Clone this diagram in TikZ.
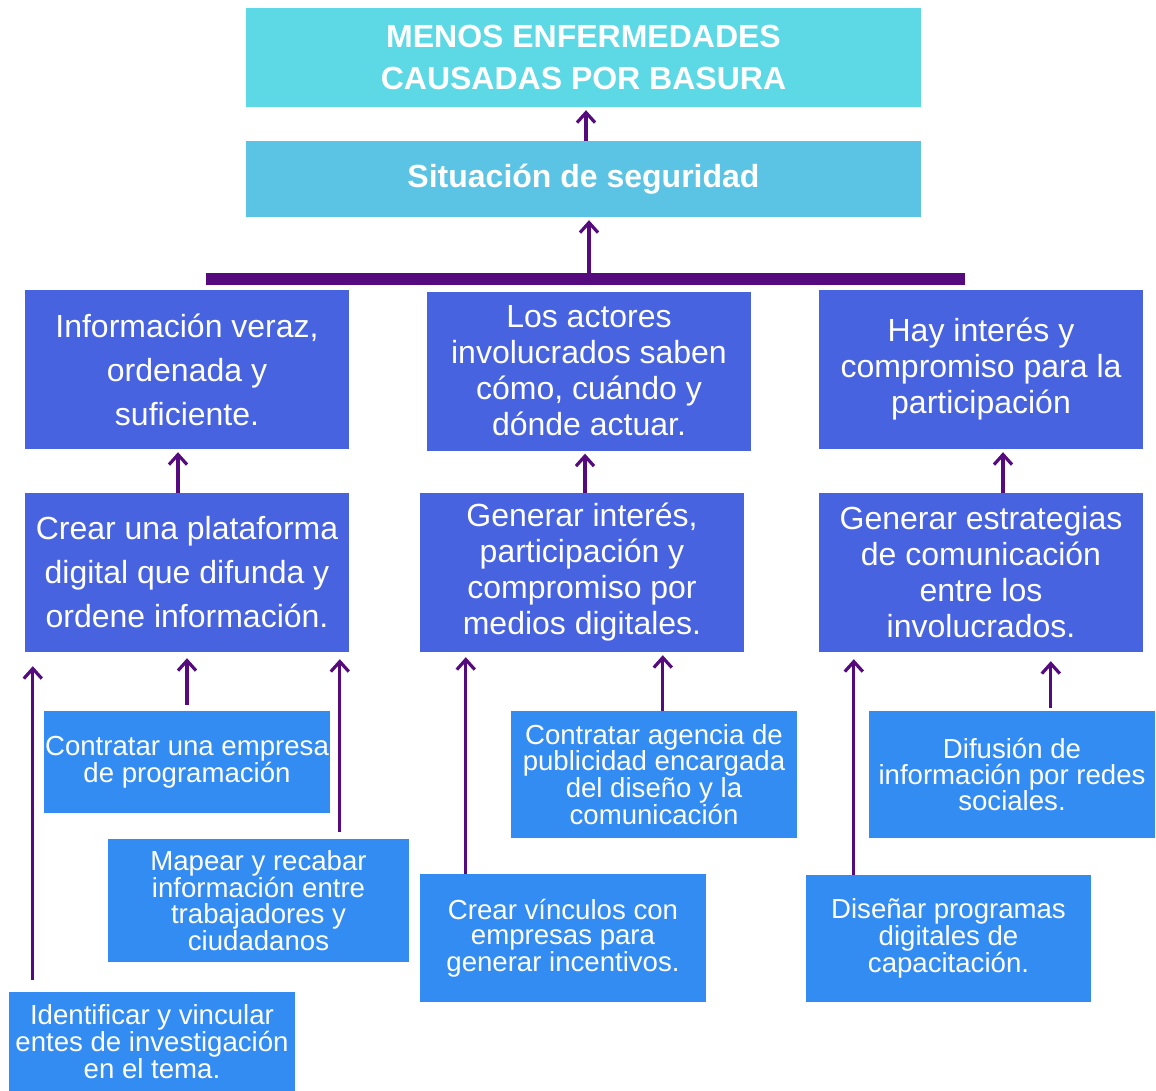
\documentclass[tikz,border=0pt]{standalone}
\usepackage{fontspec}
\setmainfont{Liberation Sans}
\usetikzlibrary{arrows.meta}
\definecolor{metacyan}{RGB}{93,217,230}
\definecolor{sitblue}{RGB}{91,196,228}
\definecolor{midblue}{RGB}{72,99,224}
\definecolor{lowblue}{RGB}{51,140,242}
\definecolor{arrpurple}{RGB}{85,10,125}

\begin{document}
\begin{tikzpicture}[x=1pt,y=-1pt,
  box/.style={inner sep=0pt,text=white,align=center},
  headbox/.style={box,font=\fontsize{32}{42}\selectfont\bfseries,minimum width=675},
  resbox/.style={box,fill=midblue,minimum width=324,minimum height=159,font=\fontsize{32}{36}\selectfont},
  wideres/.style={resbox,font=\fontsize{32}{44}\selectfont},
  actbox/.style={box,fill=lowblue,minimum width=286,font=\fontsize{27.6}{25.7}\selectfont},
  arr/.style={arrpurple,line width=3.2pt,-{Straight Barb[length=10pt,width=18pt]}}]
\useasboundingbox (0,0) rectangle (1156,1091);

% fin y proposito
\node[headbox,fill=metacyan,minimum height=99] (meta) at (583.5,57.5) {MENOS ENFERMEDADES\\CAUSADAS POR BASURA};
\node[headbox,fill=sitblue,minimum height=76] (sit) at (583.5,179) {Situación de seguridad};

% resultados
\node[wideres] (res1) at (187,369.5) {Información veraz,\\ordenada y\\suficiente.};
\node[resbox] (res2) at (589,371) {Los actores\\involucrados saben\\cómo, cuándo y\\dónde actuar.};
\node[resbox] (res3) at (981,369.5) {Hay interés y\\compromiso para la\\participación};

% componentes
\node[wideres] (comp1) at (187,572.5) {Crear una plataforma\\digital que difunda y\\ordene información.};
\node[resbox] (comp2) at (582,572.5) {Generar interés,\\participación y\\compromiso por\\medios digitales.};
\node[resbox] (comp3) at (981,572.5) {Generar estrategias\\de comunicación\\entre los\\involucrados.};

% actividades
\node[actbox,minimum height=102] (act1) at (187,762) {Contratar una empresa\\de programación};
\node[actbox,minimum width=301,minimum height=123] (act2) at (258.5,900.5) {Mapear y recabar\\información entre\\trabajadores y\\ciudadanos};
\node[actbox,minimum height=99] (act3) at (152,1041.5) {Identificar y vincular\\entes de investigación\\en el tema.};
\node[actbox,minimum height=127] (act4) at (654,774.5) {Contratar agencia de\\publicidad encargada\\del diseño y la\\comunicación};
\node[actbox,minimum height=128] (act5) at (563,938) {Crear vínculos con\\empresas para\\generar incentivos.};
\node[actbox,minimum height=127] (act6) at (1012,774.5) {Difusión de\\información por redes\\sociales.};
\node[actbox,minimum width=285,minimum height=127] (act7) at (948.5,938.5) {Diseñar programas\\digitales de\\capacitación.};

% barra
\coordinate (barL) at (206,279);
\coordinate (barR) at (965,279);
\coordinate (barM) at (589,273);
\draw[arrpurple,line width=12pt] (barL) -- (barR);

% flechas
\draw[arr,shorten >=3] (barM) -- (barM |- sit.south);
\coordinate (s0) at ([xshift=2.5]sit.north);
\draw[arr,shorten >=3] (s0) -- (s0 |- meta.south);

\coordinate (m1) at ([xshift=-9]comp1.north);
\draw[arr,shorten >=3] (m1) -- (m1 |- res1.south);
\coordinate (m2) at ([xshift=3]comp2.north);
\draw[arr,shorten >=3] (m2) -- (m2 |- res2.south);
\coordinate (m3) at ([xshift=22]comp3.north);
\draw[arr,shorten >=3] (m3) -- (m3 |- res3.south);

\coordinate (a1) at (act1.north);
\draw[arr,shorten <=6,shorten >=6] (a1) -- (a1 |- comp1.south);
\coordinate (a2) at ([xshift=232]act2.north west);
\draw[arr,shorten <=7,shorten >=7] (a2) -- (a2 |- comp1.south);
\coordinate (a3) at ([xshift=24]act3.north west);
\draw[arr,shorten <=12,shorten >=14] (a3) -- (a3 |- comp1.south);
\coordinate (a4) at ([xshift=152]act4.north west);
\draw[arr,shorten >=3] (a4) -- (a4 |- comp2.south);
\coordinate (a5) at ([xshift=46]act5.north west);
\draw[arr,shorten >=5] (a5) -- (a5 |- comp2.south);
\coordinate (a6) at ([xshift=182]act6.north west);
\draw[arr,shorten <=3,shorten >=9] (a6) -- (a6 |- comp3.south);
\coordinate (a7) at ([xshift=48]act7.north west);
\draw[arr,shorten >=7] (a7) -- (a7 |- comp3.south);
\end{tikzpicture}
\end{document}
